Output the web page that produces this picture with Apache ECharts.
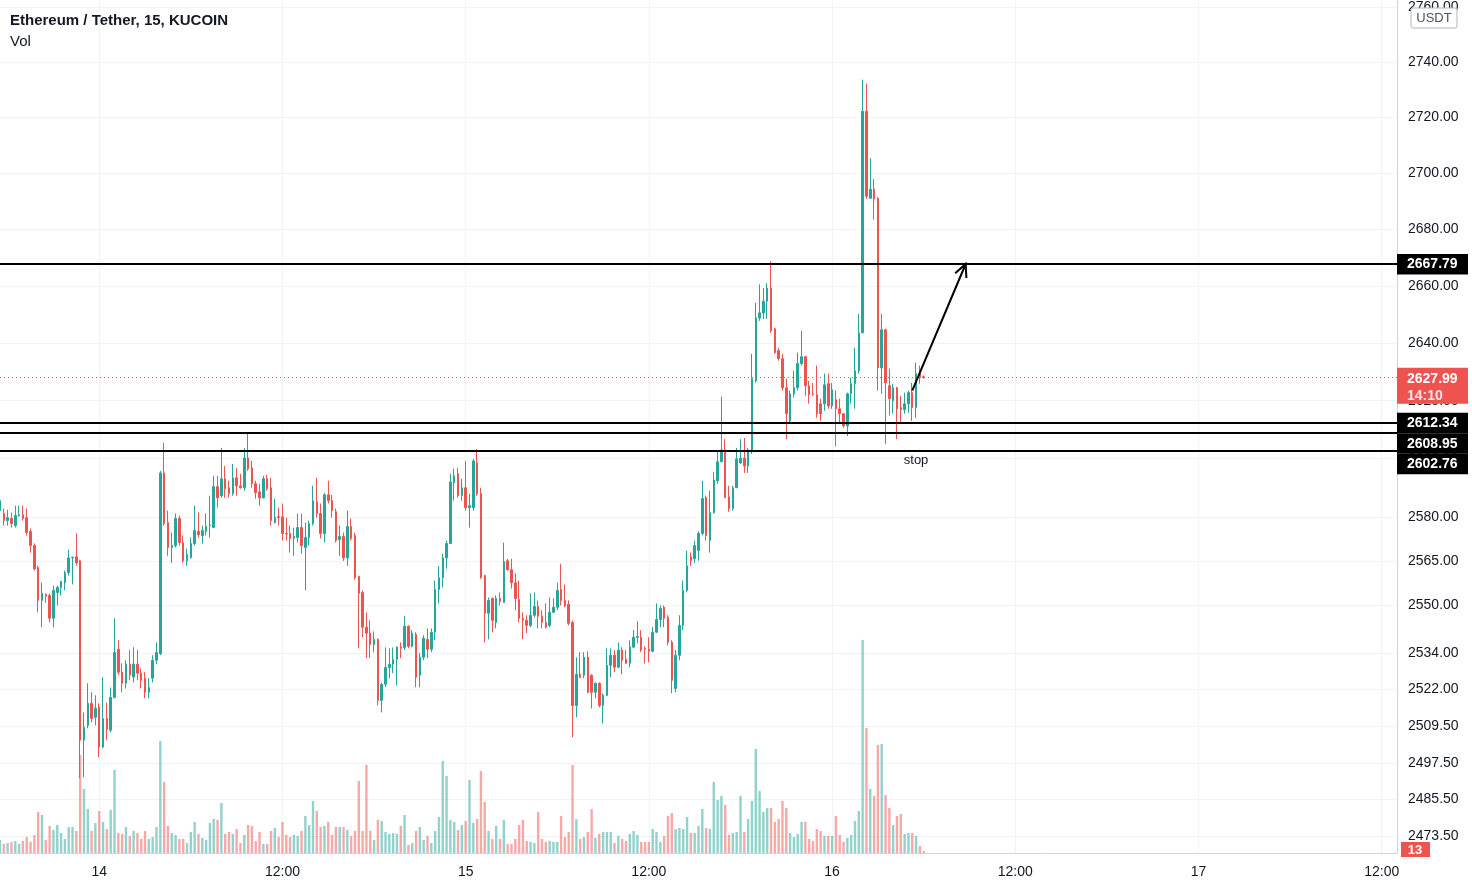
<!DOCTYPE html>
<html><head><meta charset="utf-8">
<script src="https://cdn.jsdelivr.net/npm/echarts@6/dist/echarts.min.js"></script>
<style>html,body{margin:0;padding:0;background:#fff}#c{width:1472px;height:886px}</style>
</head><body><div id="c"></div>
<script>
// ---- data ----
const startDay = 13, startMinutes = 17 * 60 + 30, slotMinutes = 15, totalSlots = 367;
// [open, close, low, high], 15-minute bars from the 13th 17:30
const ohlc = [
[2582.2,2585.6,2580.5,2586.6],[2581.2,2578.8,2577.1,2582.9],[2578.8,2579.8,2577.1,2582.5],[2579.5,2577.8,2576.4,2581.5],
[2577.1,2580.5,2576.4,2583.9],[2580.5,2580.8,2580.1,2583.9],[2580.8,2579.5,2578.8,2583.9],[2579.8,2574.7,2573.7,2582.9],
[2575.1,2570.3,2567.9,2576.1],[2570.3,2562.4,2561.8,2571.0],[2562.8,2551.7,2547.7,2563.4],[2551.7,2554.1,2542.7,2557.7],
[2553.7,2553.1,2551.0,2554.1],[2553.4,2545.7,2544.3,2554.1],[2545.7,2555.1,2542.7,2556.7],[2554.4,2556.1,2550.0,2556.7],
[2556.1,2558.1,2553.4,2558.4],[2557.7,2561.1,2555.1,2561.8],[2561.1,2566.1,2560.1,2568.9],[2566.1,2566.3,2557.1,2566.5],
[2566.5,2564.4,2563.4,2574.4],[2565.1,2505.0,2492.4,2565.5],[2505.0,2509.3,2492.8,2514.2],[2509.9,2517.2,2508.9,2523.9],
[2517.2,2512.2,2510.9,2520.9],[2512.6,2515.6,2509.9,2519.9],
[2515.9,2502.7,2499.4,2517.2],[2502.7,2512.2,2502.3,2525.9],[2512.2,2508.6,2505.0,2517.5],[2508.3,2519.2,2507.6,2522.5],
[2519.2,2534.2,2518.9,2545.7],[2535.3,2527.6,2526.6,2538.3],[2527.6,2523.9,2520.9,2530.6],[2523.9,2530.3,2522.2,2531.6],
[2530.3,2526.6,2524.9,2535.0],[2526.0,2530.3,2524.2,2536.0],[2530.3,2527.3,2524.9,2535.0],[2527.3,2524.9,2522.2,2528.9],
[2525.6,2520.9,2518.9,2527.6],[2520.9,2522.5,2518.9,2525.6],[2525.6,2531.6,2524.2,2533.3],[2531.6,2534.2,2530.3,2537.6],
[2533.8,2595.1,2533.3,2595.8],[2595.1,2577.8,2577.1,2605.4],[2578.1,2569.6,2566.8,2582.2],[2569.6,2570.3,2564.4,2574.7],
[2570.3,2579.5,2569.6,2581.2],[2579.5,2571.3,2570.3,2580.5],[2571.3,2565.1,2564.4,2573.7],[2565.1,2567.2,2563.4,2569.3],
[2566.2,2571.0,2565.8,2573.0],[2571.0,2575.4,2570.3,2583.9],[2575.1,2574.0,2573.0,2581.5],[2573.7,2575.4,2571.0,2577.1],
[2575.1,2576.8,2573.7,2581.2],[2577.1,2577.3,2573.0,2587.3],[2576.4,2590.4,2576.4,2594.1],[2590.4,2586.6,2583.2,2594.1],
[2587.3,2593.1,2586.6,2603.7],[2593.1,2589.7,2586.6,2597.5],[2590.0,2588.0,2586.6,2592.4],[2588.0,2593.4,2587.3,2598.2],
[2593.4,2590.7,2587.3,2596.8],[2590.7,2590.0,2589.7,2594.8],[2590.0,2600.2,2589.0,2603.7],[2600.2,2596.5,2595.8,2608.9],
[2596.8,2591.4,2590.0,2599.2],[2591.4,2588.3,2586.3,2592.4],[2588.6,2586.6,2583.9,2591.4],[2586.6,2593.1,2586.3,2594.1],
[2593.1,2589.7,2589.0,2594.4],[2590.0,2578.8,2577.1,2593.4],[2578.1,2579.8,2577.8,2586.3],[2580.1,2579.8,2577.1,2583.2],
[2580.1,2574.4,2572.0,2584.6],[2574.4,2574.2,2572.0,2579.8],[2574.4,2572.7,2567.9,2577.1],[2572.7,2573.4,2566.8,2576.4],
[2573.0,2576.4,2571.3,2581.2],[2576.4,2570.3,2567.5,2581.2],[2569.6,2573.0,2555.1,2578.1],[2573.0,2577.8,2570.3,2578.8],
[2577.8,2585.6,2577.1,2590.7],[2585.2,2581.2,2579.8,2593.4],[2581.2,2574.4,2572.7,2584.6],[2574.4,2587.6,2571.3,2588.3],
[2587.6,2585.6,2584.6,2592.4],[2585.6,2582.2,2579.8,2587.6],[2581.8,2572.0,2571.3,2582.9],[2572.3,2573.4,2566.8,2577.1],
[2573.4,2566.1,2565.1,2574.7],[2566.1,2576.8,2563.4,2582.2],[2576.8,2572.7,2572.0,2579.5],[2573.7,2559.4,2558.7,2574.7],
[2559.8,2554.1,2535.6,2560.1],[2554.4,2542.7,2539.3,2555.1],[2542.7,2540.7,2532.3,2547.7],[2540.7,2536.9,2532.3,2545.0],
[2536.9,2538.6,2534.3,2541.3],[2538.6,2518.2,2516.5,2538.9],[2518.2,2523.6,2514.2,2524.0],[2523.6,2529.2,2522.6,2535.9],
[2529.2,2530.3,2525.6,2535.6],[2530.3,2531.9,2527.3,2535.9],[2531.9,2536.0,2523.2,2536.3],[2536.0,2535.6,2532.3,2537.6],
[2535.9,2543.0,2535.0,2546.4],[2543.0,2536.3,2535.6,2543.3],[2536.3,2540.7,2535.9,2541.7],[2540.3,2525.9,2522.6,2541.0],
[2526.6,2532.6,2522.6,2534.0],[2532.6,2539.0,2531.6,2540.0],[2538.6,2535.3,2532.3,2542.3],[2535.3,2541.0,2534.3,2542.3],
[2541.0,2555.4,2538.3,2558.4],[2555.4,2559.4,2550.7,2563.4],[2559.4,2566.1,2556.1,2567.5],[2566.1,2571.0,2562.4,2572.0],
[2571.0,2592.0,2571.0,2594.8],[2591.7,2594.1,2585.6,2596.5],[2594.8,2587.3,2586.6,2596.8],[2587.3,2590.0,2585.6,2593.1],
[2590.0,2583.2,2582.2,2599.2],[2583.2,2583.9,2576.4,2588.0],[2583.2,2599.2,2582.2,2599.9],[2598.5,2588.0,2587.3,2603.3],
[2588.0,2559.4,2559.0,2590.0],[2560.1,2547.4,2537.6,2560.4],[2547.4,2551.7,2538.6,2552.7],[2552.4,2545.0,2541.0,2552.7],
[2544.3,2552.4,2542.3,2553.4],[2552.4,2551.4,2550.0,2554.4],[2551.0,2564.8,2551.0,2571.3],[2565.1,2562.1,2561.8,2565.8],
[2562.1,2557.7,2555.7,2565.8],[2557.7,2552.4,2548.4,2560.8],[2552.0,2545.7,2544.3,2558.4],[2545.7,2545.0,2538.6,2547.7],
[2545.0,2543.3,2540.7,2546.7],[2543.3,2546.7,2542.7,2554.1],[2546.7,2549.7,2546.0,2554.4],[2549.7,2546.4,2542.3,2551.7],
[2546.4,2544.3,2542.3,2548.4],[2544.3,2542.7,2542.3,2550.7],[2543.3,2547.7,2542.7,2552.7],[2547.7,2549.4,2547.4,2552.4],
[2549.4,2555.1,2548.4,2557.7],[2555.4,2551.7,2550.0,2564.1],[2551.7,2550.0,2549.4,2557.1],[2550.4,2544.0,2543.3,2551.7],
[2544.3,2516.5,2506.0,2545.0],[2516.5,2526.9,2512.6,2532.6],[2526.9,2525.9,2525.6,2534.3],[2526.6,2532.6,2525.6,2534.3],
[2532.6,2520.9,2520.6,2534.6],[2526.6,2520.9,2515.5,2526.9],[2520.9,2523.9,2518.9,2524.2],[2523.9,2516.5,2515.9,2524.2],
[2516.5,2519.9,2510.6,2520.6],[2519.9,2529.9,2519.6,2535.6],[2529.9,2533.3,2525.9,2535.6],[2533.3,2529.3,2527.6,2535.0],
[2529.3,2535.0,2528.9,2537.6],[2535.0,2531.6,2526.9,2536.0],[2531.9,2530.6,2530.3,2535.0],[2530.6,2536.0,2529.3,2538.3],
[2536.0,2539.3,2535.6,2541.7],[2539.3,2539.6,2537.3,2544.7],[2539.3,2535.0,2534.3,2541.7],[2535.6,2535.3,2530.6,2536.3],
[2535.3,2534.6,2530.9,2539.3],[2534.6,2541.0,2534.3,2542.7],[2541.0,2545.3,2540.7,2550.7],[2545.3,2549.0,2542.7,2550.0],
[2549.4,2545.7,2542.7,2550.0],[2546.0,2537.6,2536.6,2546.7],[2537.6,2524.9,2520.6,2538.3],[2522.2,2533.3,2520.9,2535.0],
[2533.3,2543.3,2531.6,2546.7],[2543.3,2555.1,2541.7,2558.4],[2555.1,2563.4,2554.4,2568.6],[2566.5,2565.1,2563.4,2567.9],
[2565.8,2570.3,2564.4,2572.0],[2568.6,2574.4,2565.1,2575.1],[2574.4,2586.3,2573.7,2592.4],[2586.6,2573.7,2572.0,2587.3],
[2572.0,2581.5,2567.9,2589.0],[2581.5,2592.7,2581.2,2595.5],[2592.4,2598.9,2591.4,2603.0],[2598.9,2603.0,2598.9,2621.4],
[2603.0,2586.6,2586.6,2606.7],[2586.9,2582.9,2581.8,2590.7],[2582.9,2590.0,2582.2,2590.7],[2590.0,2599.9,2590.0,2603.7],
[2598.5,2600.2,2598.2,2606.7],[2600.2,2597.5,2595.1,2607.1],[2597.5,2603.0,2595.1,2603.7],[2603.0,2627.6,2601.6,2636.3],
[2626.9,2648.8,2626.2,2654.1],[2648.8,2650.6,2647.8,2660.6],[2650.6,2654.7,2648.5,2659.3],[2654.7,2659.3,2648.5,2661.0],
[2659.3,2644.3,2643.6,2668.7],[2645.0,2636.7,2636.3,2645.4],[2637.4,2634.6,2633.9,2638.4],[2634.6,2624.5,2623.5,2636.3],
[2624.5,2615.5,2606.7,2627.6],[2613.0,2622.4,2612.0,2623.5],[2622.4,2624.5,2621.1,2630.4],[2624.5,2632.9,2623.5,2636.7],
[2632.9,2635.3,2632.2,2644.3],[2635.3,2625.2,2621.7,2635.6],[2625.2,2622.1,2619.0,2626.9],[2622.4,2622.1,2621.7,2626.2],
[2622.1,2615.5,2614.1,2632.2],[2618.9,2615.5,2613.0,2620.7],[2618.9,2625.5,2616.5,2629.4],[2625.9,2618.2,2617.2,2629.4],
[2618.2,2623.8,2617.2,2626.2],[2620.3,2617.2,2604.3,2623.5],[2617.2,2615.5,2612.0,2620.7],[2615.5,2611.3,2610.6,2615.5],
[2611.3,2622.4,2607.8,2622.8],[2622.4,2625.9,2619.0,2628.0],[2625.9,2630.4,2617.2,2638.4],[2630.4,2643.6,2629.4,2650.2],
[2643.6,2722.2,2643.6,2733.6],[2722.2,2691.8,2690.8,2732.2],[2691.1,2694.3,2690.8,2705.4],[2694.3,2690.8,2683.5,2697.9],
[2691.1,2631.4,2623.5,2691.4],[2631.4,2644.7,2622.4,2650.2],[2644.7,2626.2,2605.0,2645.0],[2625.2,2620.7,2614.8,2631.1],
[2620.0,2624.5,2615.5,2625.9],[2624.5,2617.2,2606.7,2624.8],[2617.6,2616.9,2612.3,2621.7],[2616.9,2618.9,2615.5,2622.8],
[2618.9,2622.8,2615.8,2623.5],[2622.8,2617.6,2613.0,2626.2],[2617.6,2629.4,2614.1,2633.2],[2629.4,2628.3,2625.9,2632.2],
[2628.3,2627.99,2627.7,2628.7]
];
const volumes = [
85,59,65,72,78,59,78,104,72,117,267,247,85,176,150,182,130,91,169,169,
143,637,416,286,143,195,273,202,156,280,540,130,124,169,111,143,130,91,143,91,
104,169,728,462,176,130,117,91,91,65,137,202,124,98,85,195,221,215,325,124,
137,124,156,65,117,182,176,78,137,59,59,143,163,104,202,117,104,117,111,143,
241,182,338,273,169,176,202,117,169,169,169,150,111,143,468,143,572,143,85,215,
208,137,124,130,124,176,247,52,65,143,169,85,111,65,143,234,598,501,215,202,
150,182,
208,475,195,221,533,332,143,91,176,91,215,59,59,91,182,215,78,72,65,267,
91,72,78,72,72,241,104,137,572,221,91,104,137,286,98,124,137,137,137,65,
111,91,78,124,143,117,72,72,72,156,137,72,111,241,260,156,163,156,234,130,
130,176,286,163,156,462,345,371,312,117,130,137,371,137,221,338,676,403,267,293,
293,202,221,338,293,130,104,124,202,202,91,78,156,143,111,111,111,241,117,72,
98,117,208,273,1385,813,416,371,702,709,377,293,182,241,254,124,130,130,111,46,
13
];
const priceTicks = [2473.5,2485.5,2497.5,2509.5,2522,2534,2550,2565,2580,2600,2620,2640,2660,2680,2700,2720,2740,2760];
const levels = [2667.79, 2612.34, 2608.95, 2602.76];
const lastPrice = 2627.99;
const countdown = '14:10';
const arrowFrom = [239, 2623.5];   // [slot index, price]
const arrowTo = [253, 2667.79];
const stopNote = { text: 'stop', slot: 240, price: 2602.76 };
const titleText = 'Ethereum / Tether, 15, KUCOIN';
const currency = 'USDT';

// ---- build ----
const cats = [];
for (let i = 0; i < totalSlots; i++) {
  const m = startMinutes + i * slotMinutes;
  const day = startDay + Math.floor(m / 1440);
  const mm = m % 1440;
  cats.push(day + ' ' + String(Math.floor(mm / 60)).padStart(2, '0') + ':' + String(mm % 60).padStart(2, '0'));
}
const UP = '#26a69a', DOWN = '#ef5350';
const FONT = "'Liberation Sans', Arial, sans-serif";
const isMark = (idx, v) => / (00|12):00$/.test(v);
const volData = volumes.map((v, i) => ({
  value: v,
  itemStyle: { color: ohlc[i][1] >= ohlc[i][0] ? 'rgba(38,166,154,0.5)' : 'rgba(239,83,80,0.5)' }
}));

const chart = echarts.init(document.getElementById('c'), null, { renderer: 'canvas' });
const option = {
  animation: false,
  backgroundColor: '#ffffff',
  textStyle: { fontFamily: FONT },
  title: [
    { text: titleText, left: 5, top: 8, textStyle: { fontSize: 15, fontWeight: 'bold', color: '#131722', fontFamily: FONT } },
    { text: 'Vol', left: 5, top: 29, textStyle: { fontSize: 15, fontWeight: 'normal', color: '#131722', fontFamily: FONT } }
  ],
  grid: [
    { left: 0, right: 75, top: 0, bottom: 33 },
    { left: 0, right: 75, top: 553, bottom: 33 }
  ],
  xAxis: [
    {
      type: 'category', gridIndex: 0, data: cats, boundaryGap: false,
      axisLine: { show: true, lineStyle: { color: '#d1d4dc', width: 1 } },
      axisTick: { show: false },
      axisLabel: { interval: isMark, formatter: v => v.endsWith('00:00') ? v.split(' ')[0] : '12:00',
        color: '#131722', fontSize: 14, margin: 12, fontFamily: FONT, hideOverlap: false },
      splitLine: { show: true, interval: isMark, lineStyle: { color: '#f0f3fa', width: 1 } }
    },
    { type: 'category', gridIndex: 1, data: cats, boundaryGap: false, show: false }
  ],
  yAxis: [
    {
      type: 'log', logBase: 10, gridIndex: 0, position: 'right', min: 2467.9, max: 2762.4, scale: true,
      axisLine: { show: true, lineStyle: { color: '#d1d4dc' } },
      axisTick: { show: false, customValues: priceTicks },
      axisLabel: { customValues: priceTicks, formatter: v => Number(v).toFixed(2), color: '#131722', fontSize: 14, margin: 11, fontFamily: FONT },
      splitLine: { show: true, lineStyle: { color: '#f0f3fa', width: 1 } }
    },
    { type: 'value', gridIndex: 1, min: 0, max: 1950, show: false }
  ],
  series: [
    { type: 'bar', name: 'Vol', xAxisIndex: 1, yAxisIndex: 1, data: volData, barWidth: 2.4, z: 1, silent: true },
    {
      type: 'candlestick', name: 'ETHUSDT', xAxisIndex: 0, yAxisIndex: 0, data: ohlc, barWidth: 2, z: 3,
      itemStyle: { color: UP, color0: DOWN, borderColor: UP, borderColor0: DOWN, borderWidth: 1 },
      markLine: {
        silent: true, symbol: ['none', 'none'], animation: false,
        label: { show: false },
        data: levels.map(v => ({ yAxis: v, lineStyle: { color: '#000', width: 2, type: 'solid' } }))
          .concat([{ yAxis: lastPrice, lineStyle: { color: DOWN, width: 1, type: [1, 3] } }])
      }
    }
  ]
};
chart.setOption(option);

// ---- overlays computed from the axes ----
const toPx = (slot, price) => chart.convertToPixel({ xAxisIndex: 0, yAxisIndex: 0 }, [slot, price]);
const axisX = toPx(totalSlots - 1, lastPrice)[0];
const g = [];
// arrow
const p0 = toPx(arrowFrom[0], arrowFrom[1]), p1 = toPx(arrowTo[0], arrowTo[1]);
const ang = Math.atan2(p1[1] - p0[1], p1[0] - p0[0]);
const headLen = 14, spread = 0.45;
g.push({ type: 'polyline', z: 100, shape: { points: [p0, p1] }, style: { stroke: '#000', lineWidth: 2, fill: null } });
g.push({ type: 'polyline', z: 100, shape: { points: [
  [p1[0] - headLen * Math.cos(ang - spread), p1[1] - headLen * Math.sin(ang - spread)], p1,
  [p1[0] - headLen * Math.cos(ang + spread), p1[1] - headLen * Math.sin(ang + spread)] ] },
  style: { stroke: '#000', lineWidth: 2, fill: null } });
// stop note
const sp = toPx(stopNote.slot, stopNote.price);
g.push({ type: 'text', z: 100, x: sp[0], y: sp[1] + 10, style: { text: stopNote.text, fill: '#131722', font: '13px ' + FONT, align: 'center', verticalAlign: 'middle' } });
// current price label
const yLast = chart.convertToPixel({ yAxisIndex: 0 }, lastPrice);
g.push({ type: 'rect', z: 100, shape: { x: axisX, y: yLast - 10, width: 71, height: 36 }, style: { fill: DOWN } });
g.push({ type: 'text', z: 101, x: axisX + 10, y: yLast + 1, style: { text: lastPrice.toFixed(2), fill: '#fff', font: 'bold 14px ' + FONT, verticalAlign: 'middle' } });
g.push({ type: 'text', z: 101, x: axisX + 10, y: yLast + 18, style: { text: countdown, fill: '#ffe5e5', font: 'bold 14px ' + FONT, verticalAlign: 'middle' } });
// level labels, stacked so they do not overlap
const lv = levels.map(v => ({ v, y: chart.convertToPixel({ yAxisIndex: 0 }, v) })).sort((a, b) => a.y - b.y);
let lastBottom = -Infinity;
lv.forEach(o => {
  let top = Math.max(o.y - 10, lastBottom);
  lastBottom = top + 20.5;
  g.push({ type: 'rect', z: 102, shape: { x: axisX, y: top, width: 71, height: 20.5 }, style: { fill: '#000' } });
  g.push({ type: 'text', z: 103, x: axisX + 10, y: top + 10.5, style: { text: o.v.toFixed(2), fill: '#fff', font: 'bold 14px ' + FONT, verticalAlign: 'middle' } });
});
// volume last value label
const lastVolIdx = volumes.length - 1;
const vy = chart.convertToPixel({ xAxisIndex: 1, yAxisIndex: 1 }, [lastVolIdx, volumes[lastVolIdx]])[1];
g.push({ type: 'rect', z: 100, shape: { x: axisX + 4, y: vy - 9, width: 29, height: 15 }, style: { fill: DOWN } });
g.push({ type: 'text', z: 101, x: axisX + 18, y: vy - 1, style: { text: String(volumes[lastVolIdx]), fill: '#fff', font: 'bold 13px ' + FONT, align: 'center', verticalAlign: 'middle' } });
// currency box
g.push({ type: 'rect', z: 104, shape: { x: axisX + 14, y: 8, width: 46, height: 20, r: 2 }, style: { fill: '#fff', stroke: '#b2b5be', lineWidth: 1 } });
g.push({ type: 'text', z: 105, x: axisX + 37, y: 18.5, style: { text: currency, fill: '#4c525e', font: '13px ' + FONT, align: 'center', verticalAlign: 'middle' } });

chart.setOption({ graphic: { elements: g } });
</script>
</body></html>
